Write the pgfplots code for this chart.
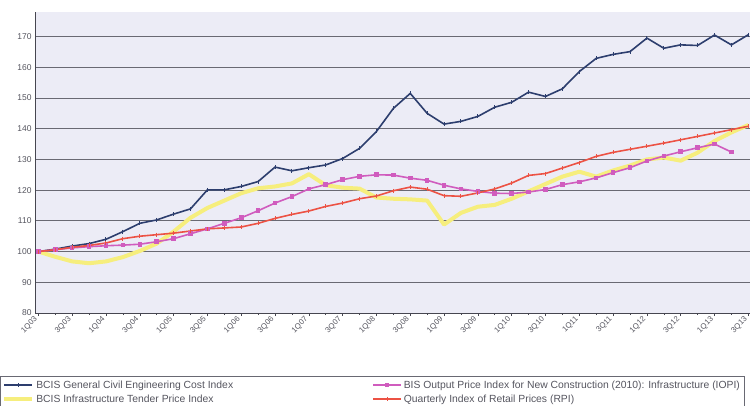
\documentclass[border=0pt]{standalone}
\usepackage{fontspec}
\setmainfont{Liberation Sans}
\usepackage{pgfplots}
\usepackage{pgfplotstable}
\pgfplotsset{compat=1.18}

\definecolor{plotbg}{RGB}{236,236,246}
\definecolor{gridgray}{RGB}{105,105,115}
\definecolor{axisgray}{RGB}{70,70,80}
\definecolor{labelgray}{RGB}{85,85,95}
\definecolor{gceblue}{RGB}{45,62,110}
\definecolor{tpiyellow}{RGB}{246,238,125}
\definecolor{iopipink}{RGB}{208,92,190}
\definecolor{rpired}{RGB}{236,82,68}

% Quarterly indices, 1Q03 = 100 (q = quarters since 1Q03)
\pgfplotstableread{
q  gce    tpi    iopi   rpi
0  100.0  100.0  100.0  100.0
1  100.8  98.3   100.6  100.6
2  101.8  96.8   101.2  101.4
3  102.6  96.2   101.6  102.0
4  104.0  96.8   101.9  102.8
5  106.5  98.2   102.1  104.2
6  109.2  100.2  102.4  105.0
7  110.3  102.6  103.2  105.5
8  112.2  106.5  104.2  106.0
9  113.9  111.0  105.8  106.7
10 120.1  114.2  107.4  107.4
11 120.1  116.6  109.2  107.7
12 121.2  119.0  111.0  108.0
13 122.8  120.6  113.3  109.2
14 127.5  121.2  115.8  110.8
15 126.3  122.2  117.9  112.1
16 127.3  125.2  120.4  113.2
17 128.2  121.6  121.8  114.7
18 130.3  120.8  123.4  115.8
19 133.6  120.5  124.5  117.2
20 139.1  117.6  125.0  118.1
21 146.6  117.2  124.9  119.8
22 151.5  117.0  123.9  121.0
23 145.0  116.6  123.2  120.3
24 141.5  108.8  121.6  118.2
25 142.4  112.6  120.4  118.0
26 144.0  114.6  119.6  119.1
27 147.0  115.2  119.0  120.4
28 148.6  117.2  118.9  122.3
29 151.9  119.6  119.4  124.8
30 150.5  122.0  120.2  125.4
31 153.0  124.4  121.8  127.2
32 158.6  126.0  122.7  129.0
33 162.9  124.4  124.0  131.0
34 164.2  126.4  125.7  132.3
35 165.1  128.0  127.3  133.3
36 169.5  130.0  129.5  134.3
37 166.2  130.6  131.1  135.3
38 167.3  129.6  132.5  136.4
39 167.1  132.2  133.8  137.5
40 170.5  136.0  135.0  138.6
41 167.3  138.8  132.4  139.7
42 170.6  141.2  nan    140.8
}\indices

\begin{document}
\begin{tikzpicture}[x=1bp,y=1bp]
\useasboundingbox[fill=white] (0,0) rectangle (750,405);
\begin{axis}[
  at={(35bp,92bp)}, anchor=south west,
  scale only axis, width=715bp, height=301bp,
  xmin=-0.2, xmax=42.1, ymin=80, ymax=178,
  axis background/.style={fill=plotbg},
  axis x line*=bottom, axis y line*=left,
  axis line style={draw=axisgray, line width=0.9bp},
  ytick={80,90,...,170},
  ymajorgrids, grid style={draw=gridgray, line width=0.9bp},
  xtick={0,2,...,42},
  xticklabels={1Q03,3Q03,1Q04,3Q04,1Q05,3Q05,1Q06,3Q06,1Q07,3Q07,1Q08,
    3Q08,1Q09,3Q09,1Q10,3Q10,1Q11,3Q11,1Q12,3Q12,1Q13,3Q13},
  minor xtick={1,3,...,41},
  xtick align=outside, major tick length=3bp, minor tick length=2bp,
  x tick style={draw=axisgray, line width=0.6bp},
  minor x tick style={draw=axisgray, line width=0.6bp},
  y tick style={draw=none},
  xticklabel style={rotate=45, anchor=east, xshift=-2bp, inner sep=1bp,
    font=\fontsize{7.8}{9}\selectfont, text=labelgray},
  yticklabel style={font=\fontsize{8.5}{10}\selectfont, text=labelgray},
  /pgf/number format/assume math mode=true,
  legend columns=2, transpose legend,
  legend cell align=left,
  legend style={at={(-0.049,-0.21)}, anchor=north west,
    draw=gridgray, line width=0.6bp, fill=white,
    font=\fontsize{10.4}{12}\selectfont, text=labelgray,
    inner xsep=2bp, inner ysep=2bp, row sep=1bp,
    /tikz/column 2/.style={column sep=137bp}},
  legend image code/.code={
    \draw[#1,mark=none] (0bp,0bp) -- (28bp,0bp);
    \draw[#1,only marks] plot coordinates {(14bp,0bp)};
  },
]
\addplot[gceblue, line width=1.6bp, mark=|, mark size=2bp,
  mark options={line width=1bp}] table[x=q,y=gce] {\indices};
\addlegendentry{BCIS General Civil Engineering Cost Index}
\addplot[tpiyellow, line width=4bp, line join=round] table[x=q,y=tpi] {\indices};
\addlegendentry{BCIS Infrastructure Tender Price Index}
\addplot[iopipink, line width=1.6bp, mark=square*, mark size=1.5bp]
  table[x=q,y=iopi] {\indices};
\addlegendentry{BIS Output Price Index for New Construction (2010): Infrastructure (IOPI)}
\addplot[rpired, line width=1.6bp, mark=|, mark size=2bp,
  mark options={line width=1bp}] table[x=q,y=rpi] {\indices};
\addlegendentry{Quarterly Index of Retail Prices (RPI)}
\end{axis}
\end{tikzpicture}
\end{document}
